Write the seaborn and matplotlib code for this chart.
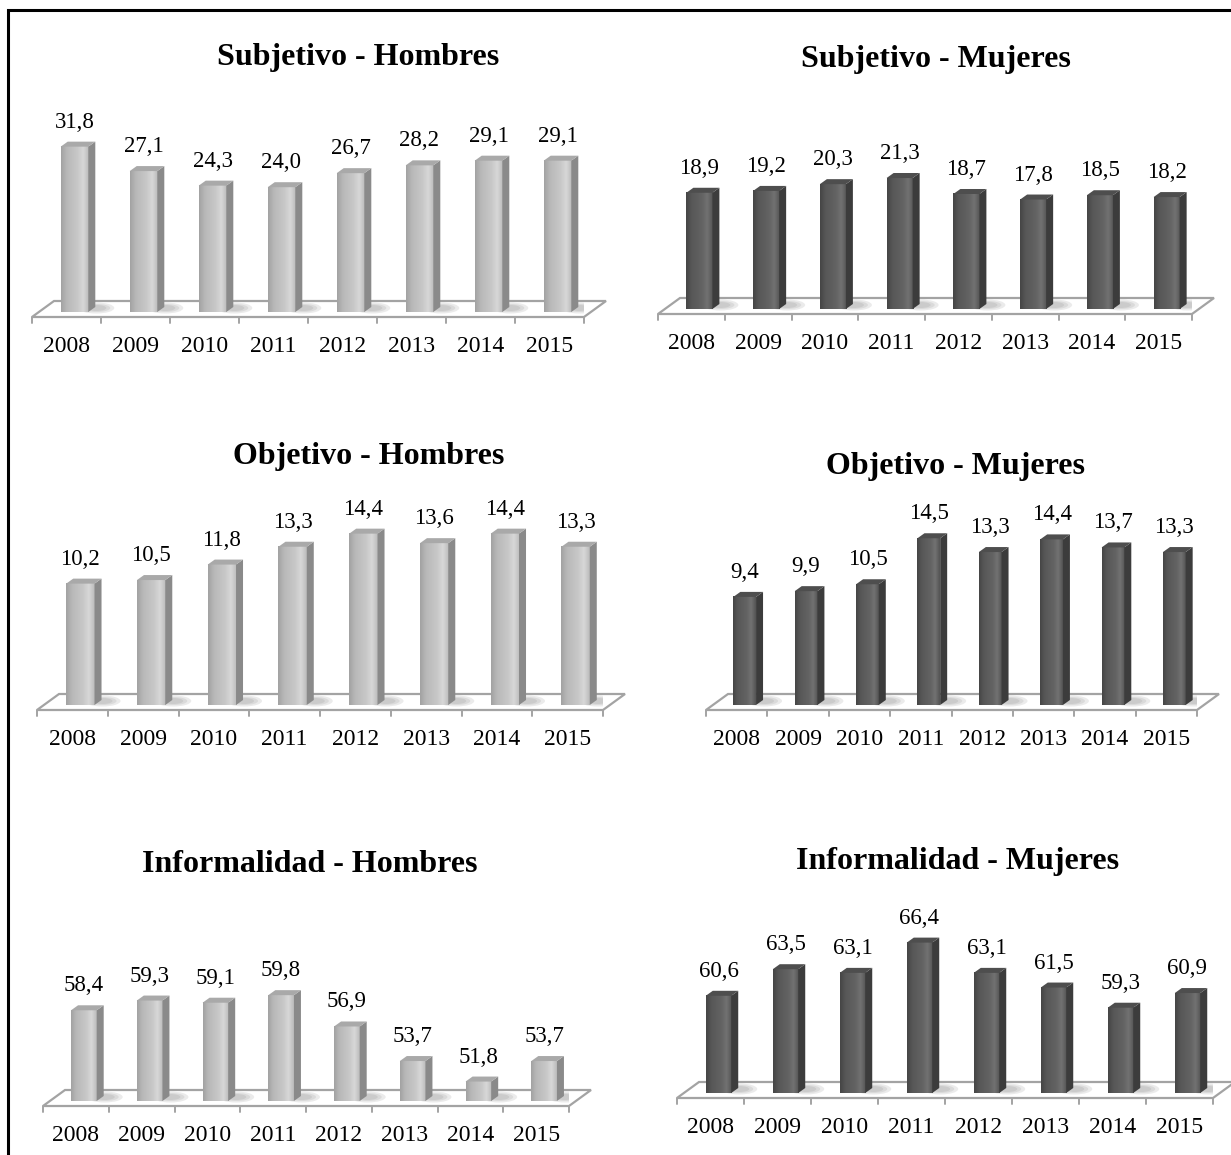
import numpy as np
import pandas as pd
import matplotlib
matplotlib.use("Agg")
import matplotlib.pyplot as plt
import seaborn as sns
from matplotlib.patches import Polygon, Rectangle, Ellipse
from matplotlib.transforms import IdentityTransform
from matplotlib.colors import LinearSegmentedColormap

# ---- data -------------------------------------------------------------
years = ["2008", "2009", "2010", "2011", "2012", "2013", "2014", "2015"]

subjetivo_hombres = [31.8, 27.1, 24.3, 24.0, 26.7, 28.2, 29.1, 29.1]
subjetivo_mujeres = [18.9, 19.2, 20.3, 21.3, 18.7, 17.8, 18.5, 18.2]
objetivo_hombres = [10.2, 10.5, 11.8, 13.3, 14.4, 13.6, 14.4, 13.3]
objetivo_mujeres = [9.4, 9.9, 10.5, 14.5, 13.3, 14.4, 13.7, 13.3]
informalidad_hombres = [58.4, 59.3, 59.1, 59.8, 56.9, 53.7, 51.8, 53.7]
informalidad_mujeres = [60.6, 63.5, 63.1, 66.4, 63.1, 61.5, 59.3, 60.9]

titles = ["Subjetivo - Hombres", "Subjetivo - Mujeres",
          "Objetivo - Hombres", "Objetivo - Mujeres",
          "Informalidad - Hombres", "Informalidad - Mujeres"]
axis_base = [0, 0, 0, 0, 50, 50]

# ---- style ------------------------------------------------------------
sns.set_theme(style="white")
plt.rcParams["font.family"] = ["Liberation Serif", "DejaVu Serif"]
plt.rcParams["text.color"] = "black"
plt.rcParams["xtick.color"] = "black"
plt.rcParams["xtick.labelcolor"] = "black"

W, H = 1231, 1155
fig = plt.figure(figsize=(W / 100, H / 100), dpi=100)

LIGHT = dict(face="#BEBEBE",
             grad=["#A2A2A2", "#B8B8B8", "#C0C0C0", "#C8C8C8", "#D8D8D8", "#BBBBBB"],
             side="#8A8A8A", top="#A9A9A9")
DARK = dict(face="#5C5C5C",
            grad=["#454545", "#575757", "#5D5D5D", "#636363", "#727272", "#545454"],
            side="#3C3C3C", top="#4E4E4E")

FLOOR_D = (22, 16)   # floor depth (px right, px up)
FRONT_D = (8, 5)     # offset of bar front face from floor front edge
BAR_D = (7, 5)       # bar depth


def draw_panel(values, title, base, x0, x1, yfront, ppu, width, title_xy, pal):
    n = len(values)
    ax_h = 260
    ax = fig.add_axes([x0 / W, 1 - yfront / H, (x1 - x0) / W, ax_h / H])
    ax.set_facecolor("none")
    ppx = (x1 - x0) / n
    y_floor = base - FRONT_D[1] / ppu

    df = pd.DataFrame({"year": years, "value": values})
    sns.barplot(data=df, x="year", y="value", color=pal["face"], width=width,
                saturation=1, errorbar=None, ax=ax, linewidth=0, zorder=3)
    ax.set_xlim(-0.5, n - 0.5)
    ax.set_ylim(y_floor, y_floor + ax_h / ppu)

    fdx, fdy = FLOOR_D[0] / ppx, FLOOR_D[1] / ppu
    bdx, bdy = BAR_D[0] / ppx, BAR_D[1] / ppu

    # floor slab
    floor = Polygon([(-0.5, y_floor), (n - 0.5, y_floor),
                     (n - 0.5 + fdx, y_floor + fdy), (-0.5 + fdx, y_floor + fdy)],
                    closed=True, facecolor="white", edgecolor="#A3A3A3",
                    linewidth=1.6, zorder=1, clip_on=False)
    ax.add_patch(floor)
    # category ticks below the front edge
    for i in range(n + 1):
        ax.plot([i - 0.5, i - 0.5], [y_floor, y_floor - 6 / ppu], color="#A3A3A3",
                lw=1.4, clip_on=False, zorder=1)

    cmap = LinearSegmentedColormap.from_list("bar", pal["grad"])
    grad = np.linspace(0, 1, 64).reshape(1, -1)

    for p in list(ax.patches):
        if p is floor:
            continue
        v = p.get_height()
        xl = p.get_x() + FRONT_D[0] / ppx
        w = p.get_width()
        xr = xl + w
        p.set_x(xl)
        p.set_y(base)
        p.set_height(v - base)

        # soft shadow on the floor behind the bar
        bx, by = ax.transData.transform((xr, base))
        for ew, eh in [(36, 11), (28, 8), (20, 6)]:
            ax.add_patch(Ellipse((bx + 8, by + 4), ew, eh, transform=IdentityTransform(),
                                 facecolor="#6A6A6A", edgecolor="none",
                                 alpha=0.13, zorder=2))

        # front face shading
        ax.imshow(grad, cmap=cmap, aspect="auto", extent=[xl, xr, base, v],
                  zorder=3.1, interpolation="bicubic")
        # side face
        ax.add_patch(Polygon([(xr, base), (xr, v), (xr + bdx, v + bdy),
                              (xr + bdx, base + bdy)], closed=True,
                             facecolor=pal["side"], edgecolor="none", zorder=3.2))
        # top face
        ax.add_patch(Polygon([(xl, v), (xr, v), (xr + bdx, v + bdy),
                              (xl + bdx, v + bdy)], closed=True,
                             facecolor=pal["top"], edgecolor="none", zorder=3.3))
        # value label
        ax.annotate(f"{v:.1f}".replace(".", ","), xy=((xl + xr) / 2, v),
                    xytext=(0, 19 * 0.72), textcoords="offset points",
                    ha="center", va="baseline", fontsize=16.5, color="black",
                    annotation_clip=False)

    ax.set_xlim(-0.5, n - 0.5)
    ax.set_ylim(y_floor, y_floor + ax_h / ppu)
    ax.set_xlabel("")
    ax.set_ylabel("")
    ax.set_yticks([])
    for s in ax.spines.values():
        s.set_visible(False)
    ax.tick_params(axis="x", length=0, pad=19 * 0.72, labelsize=17,
                   labelcolor="black")

    fig.text(title_xy[0] / W, 1 - title_xy[1] / H, title, ha="center", va="center",
             fontsize=23, fontweight="bold", color="black")


panels = [
    (subjetivo_hombres, 32, 584, 317, 5.2, 0.40, (358, 57), LIGHT),
    (subjetivo_mujeres, 658, 1192, 314, 6.15, 0.39, (936, 60), DARK),
    (objetivo_hombres, 37, 603, 710, 11.9, 0.40, (369, 457), LIGHT),
    (objetivo_mujeres, 706, 1197, 710, 11.5, 0.37, (955, 466), DARK),
    (informalidad_hombres, 43, 569, 1106, 10.8, 0.39, (310, 864), LIGHT),
    (informalidad_mujeres, 677, 1213, 1098, 9.17, 0.38, (958, 862), DARK),
]

for (vals, x0, x1, yf, ppu, wd, txy, pal), title, base in zip(panels, titles, axis_base):
    draw_panel(vals, title, base, x0, x1, yf, ppu, wd, txy, pal)

# outer frame
fig.patches.append(Rectangle((8 / W, -0.02), 1.0, 1 - 10 / H + 0.02,
                             transform=fig.transFigure, fill=False,
                             edgecolor="black", linewidth=2.2))

fig.savefig("out.png", dpi=100)
